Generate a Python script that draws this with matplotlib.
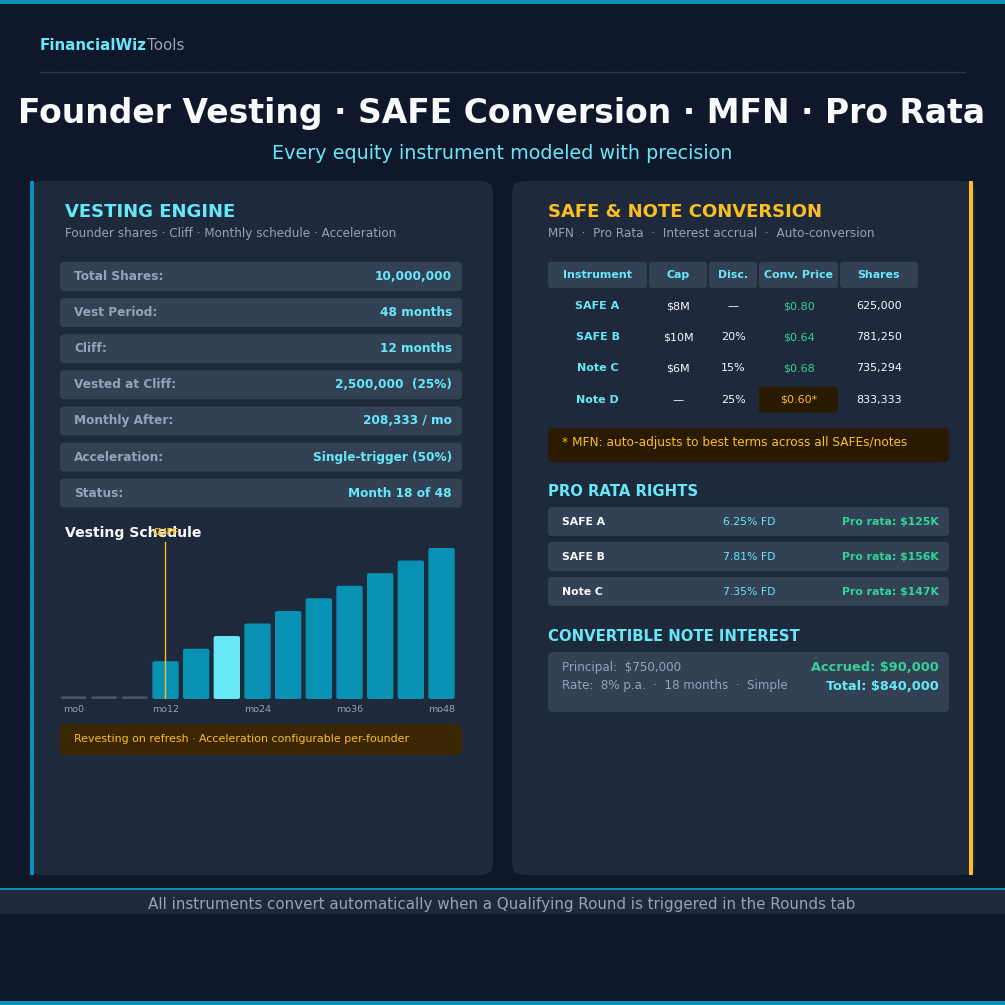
import numpy as np
import matplotlib
matplotlib.use("Agg")
import matplotlib.pyplot as plt
from matplotlib.patches import FancyBboxPatch, Rectangle

plt.rcParams['font.family'] = ['DejaVu Sans']

# colours
BG = "#0f172a"
PANEL = "#1e293b"
ROW = "#334155"
CYAN = "#67e8f9"
TEAL = "#0891b2"
AMBER = "#fbbf24"
GRAY = "#94a3b8"
GREEN = "#34d399"
WHITE = "#f8fafc"

# vesting engine data
vest_labels = ["Total Shares:", "Vest Period:", "Cliff:", "Vested at Cliff:",
               "Monthly After:", "Acceleration:", "Status:"]
vest_values = ["10,000,000", "48 months", "12 months", "2,500,000  (25%)",
               "208,333 / mo", "Single-trigger (50%)", "Month 18 of 48"]

# vesting schedule (percent vested, one bar every 4 months)
sched_months = [0, 4, 8, 12, 16, 20, 24, 28, 32, 36, 40, 44, 48]
sched_pct = [0, 0, 0, 25, 33.3, 41.7, 50, 58.3, 66.7, 75, 83.3, 91.7, 100]
current_month = 20
cliff_month = 12

# conversion table
tbl_header = ["Instrument", "Cap", "Disc.", "Conv. Price", "Shares"]
tbl_instr = ["SAFE A", "SAFE B", "Note C", "Note D"]
tbl_cap = ["$8M", "$10M", "$6M", "—"]
tbl_disc = ["—", "20%", "15%", "25%"]
tbl_price = ["$0.80", "$0.64", "$0.68", "$0.60*"]
tbl_shares = ["625,000", "781,250", "735,294", "833,333"]
mfn_row = 3

# pro rata
pr_names = ["SAFE A", "SAFE B", "Note C"]
pr_fd = ["6.25% FD", "7.81% FD", "7.35% FD"]
pr_amt = ["Pro rata: $125K", "Pro rata: $156K", "Pro rata: $147K"]

W = H = 1005
fig = plt.figure(figsize=(W / 100, H / 100), dpi=100, facecolor=BG)
ax = fig.add_axes([0, 0, 1, 1])
ax.set_xlim(0, W)
ax.set_ylim(H, 0)
ax.axis("off")
ax.set_facecolor(BG)


def rbox(x, y, w, h, color, r=5, z=1):
    ax.add_patch(FancyBboxPatch((x, y), w, h, boxstyle=f"round,pad=0,rounding_size={r}",
                                fc=color, ec="none", zorder=z))


def txt(x, y, s, size, color, weight="normal", ha="left", z=5):
    return ax.text(x, y, s, fontsize=size, color=color, fontweight=weight, ha=ha,
                   va="center", zorder=z)


# background dots
gx, gy = np.meshgrid(np.arange(0, W + 1, 30), np.arange(5, H, 30))
ax.scatter(gx.ravel(), gy.ravel(), s=1.0, c="#172033", marker="s", lw=0, zorder=0)

# top / bottom stripes
ax.add_patch(Rectangle((0, 0), W, 4, fc=TEAL, ec="none", zorder=2))
ax.add_patch(Rectangle((0, 1001), W, 4, fc=TEAL, ec="none", zorder=2))

# brand
t = txt(40, 45, "FinancialWiz", 10.9, CYAN, "bold")
fig.canvas.draw()
bb = t.get_window_extent()
txt(40 + bb.width, 45, "Tools", 10.9, GRAY)
ax.plot([40, 965], [72, 72], color="#2a3547", lw=1, zorder=2)

# title
txt(502, 113, "Founder Vesting · SAFE Conversion · MFN · Pro Rata", 23.8, WHITE, "bold", "center")
txt(502, 153, "Every equity instrument modeled with precision", 13.75, CYAN, ha="center")

# panels
rbox(30, 181, 463, 694, PANEL, r=12)
rbox(512, 181, 463, 694, PANEL, r=12)
ax.add_patch(Rectangle((30, 181), 4, 694, fc=TEAL, ec="none", zorder=2))
ax.add_patch(Rectangle((969, 181), 4, 694, fc=AMBER, ec="none", zorder=2))

# left panel
txt(65, 212, "VESTING ENGINE", 13, CYAN, "bold")
txt(65, 233, "Founder shares · Cliff · Monthly schedule · Acceleration", 8.65, GRAY)
for i, (lab, val) in enumerate(zip(vest_labels, vest_values)):
    y0 = 262 + i * 36.1
    rbox(60, y0, 402, 29, ROW, r=4)
    txt(74, y0 + 14.5, lab, 8.7, GRAY, "bold")
    txt(452, y0 + 14.5, val, 8.7, CYAN, "bold", "right")

txt(65, 533, "Vesting Schedule", 10.1, WHITE, "bold", z=4)

# schedule chart in its own axes
cx0, cx1, cy0, cy1 = 60, 455, 540, 699
cax = fig.add_axes([cx0 / W, 1 - cy1 / H, (cx1 - cx0) / W, (cy1 - cy0) / H])
cax.set_facecolor("none")
idx = np.arange(len(sched_months))
colors = []
for m, p in zip(sched_months, sched_pct):
    if p == 0:
        colors.append("#475569")
    elif m == current_month:
        colors.append(CYAN)
    else:
        colors.append(TEAL)
heights = [p if p > 0 else 1.8 for p in sched_pct]
cax.set_xlim(-0.44, len(idx) - 0.56)
cax.set_ylim(0, 105.3)
bars = cax.bar(idx, heights, width=0.86, color=colors, zorder=2)
# swap the plain rectangles for slightly rounded ones
px_x = (cx1 - cx0) / (len(idx) - 0.12)
px_y = (cy1 - cy0) / 105.3
for b, c in zip(bars, colors):
    b.set_visible(False)
    rs = 0.065
    cax.add_patch(FancyBboxPatch((b.get_x(), b.get_y()), b.get_width(), b.get_height(),
                                 boxstyle=f"round,pad=0,rounding_size={rs}",
                                 mutation_aspect=px_x / px_y, fc=c, ec="none", zorder=2))
for s in cax.spines.values():
    s.set_visible(False)
cax.set_yticks([])
tick_idx = [i for i, m in enumerate(sched_months) if m % 12 == 0]
cax.set_xticks(tick_idx)
cax.set_xticklabels([f"mo{sched_months[i]}" for i in tick_idx], fontsize=6.8, color=GRAY)
cax.tick_params(axis="x", length=0, pad=4)
ci = sched_months.index(cliff_month)
cax.axvline(ci, ymin=0, ymax=0.985, color=AMBER, lw=1, zorder=3)
cax.text(ci, 1.05, "CLIFF", transform=cax.get_xaxis_transform(), fontsize=6.2,
         color=AMBER, fontweight="bold", ha="center", va="center", clip_on=False, zorder=1)

rbox(60, 724, 402, 31, "#3b2604", r=5)
txt(74, 739, "Revesting on refresh · Acceleration configurable per-founder", 7.9, AMBER)

# right panel
txt(548, 212, "SAFE & NOTE CONVERSION", 13, AMBER, "bold")
txt(548, 233, "MFN  ·  Pro Rata  ·  Interest accrual  ·  Auto-conversion", 8.65, GRAY)

col_x = [548, 649, 709, 759, 840]
col_w = [99, 58, 48, 79, 78]
for x, w, h in zip(col_x, col_w, tbl_header):
    rbox(x, 262, w, 26, ROW, r=3)
    txt(x + w / 2, 275, h, 7.95, CYAN, "bold", "center")
cols = [tbl_instr, tbl_cap, tbl_disc, tbl_price, tbl_shares]
for r in range(len(tbl_instr)):
    y = 306 + r * 31.2
    for c, (x, w) in enumerate(zip(col_x, col_w)):
        color, weight = WHITE, "normal"
        if c == 0:
            color, weight = CYAN, "bold"
        elif c == 3:
            color = GREEN
        if c == 3 and r == mfn_row:
            rbox(x, y - 13, w, 26, "#2a1a02", r=3, z=2)
            color = AMBER
        txt(x + w / 2, y, cols[c][r], 8.0, color, weight, "center")

rbox(548, 428, 401, 34, "#2a1a02", r=5)
txt(562, 442, "* MFN: auto-adjusts to best terms across all SAFEs/notes", 8.7, AMBER)

txt(548, 491, "PRO RATA RIGHTS", 10.7, CYAN, "bold")
for i, (n, fd, a) in enumerate(zip(pr_names, pr_fd, pr_amt)):
    y0 = 507 + i * 35
    rbox(548, y0, 401, 29, ROW, r=4)
    txt(562, y0 + 14.5, n, 7.8, WHITE, "bold")
    txt(749, y0 + 14.5, fd, 7.8, CYAN, ha="center")
    txt(939, y0 + 14.5, a, 7.8, GREEN, "bold", "right")

txt(548, 636, "CONVERTIBLE NOTE INTEREST", 10.7, CYAN, "bold")
rbox(548, 652, 401, 60, ROW, r=5)
txt(562, 667, "Principal:  $750,000", 8.6, GRAY)
txt(562, 685, "Rate:  8% p.a.  ·  18 months  ·  Simple", 8.6, GRAY)
txt(939, 667, "Accrued: $90,000", 9.3, GREEN, "bold", "right")
txt(939, 686, "Total: $840,000", 9.3, CYAN, "bold", "right")

# footer
ax.add_patch(Rectangle((0, 888), W, 2, fc=TEAL, ec="none", zorder=2))
ax.add_patch(Rectangle((0, 890), W, 24, fc=PANEL, ec="none", zorder=2))
txt(502, 904, "All instruments convert automatically when a Qualifying Round is triggered in the Rounds tab",
    10.86, GRAY, ha="center")

fig.savefig("out.png", dpi=100, facecolor=BG)
